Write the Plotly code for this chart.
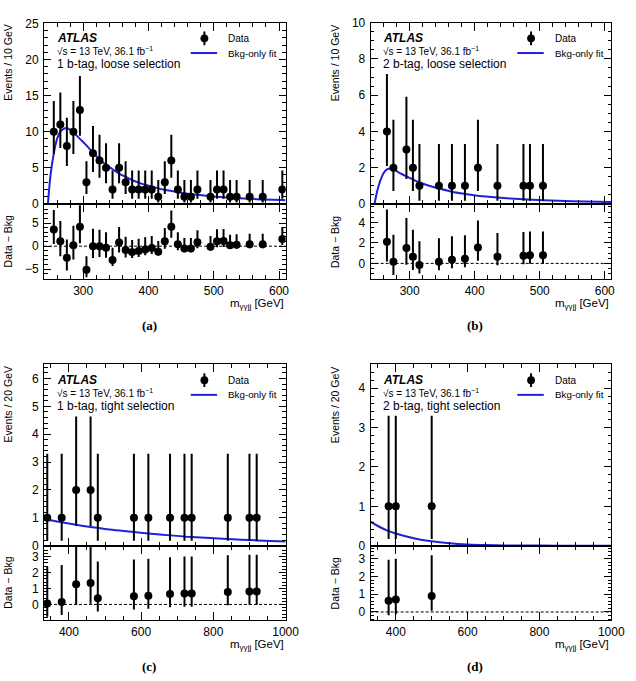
import plotly.graph_objects as go

W, H = 636, 681

# ---------------- data ----------------
# Panel (a): 1 b-tag, loose selection
a_x = [255, 265, 275, 285, 295, 305, 315, 325, 335, 345, 355, 365, 375, 385, 395, 405,
       415, 425, 435, 445, 455, 465, 475, 495, 505, 515, 525, 535, 555, 575, 605]
a_n = [10, 11, 8, 10, 13, 3, 7, 6, 5, 2, 5, 3, 2, 2, 2, 2,
       1, 3, 6, 2, 1, 1, 2, 1, 2, 2, 1, 1, 1, 1, 2]
a_diff = [3.6, 1.05, -2.5, 0.2, 4.2, -5.1, 0.0, 0.0, -0.35, -3.0, 0.8, -0.85, -1.3, -1.05, -0.7, -0.4,
          -1.2, 1.05, 4.2, 0.4, -0.5, -0.5, 0.85, -0.1, 1.05, 1.1, 0.2, 0.3, 0.4, 0.4, 1.55]
a_fit_x = [246, 250, 255, 260, 265, 270, 275, 285, 295, 305, 315, 325, 335, 345, 355, 365, 375,
           385, 395, 405, 415, 425, 435, 445, 455, 465, 475, 495, 505, 515, 525, 535, 555, 575, 605, 610]
a_fit_y = [0, 4.0, 7.0, 9.0, 10.0, 10.4, 10.5, 9.9, 9.0, 8.1, 7.1, 6.2, 5.4, 4.8, 4.2, 3.75, 3.3,
           2.95, 2.65, 2.4, 2.15, 1.95, 1.78, 1.62, 1.48, 1.36, 1.25, 1.07, 0.99, 0.92, 0.86, 0.8,
           0.7, 0.62, 0.52, 0.5]

# Panel (b): 2 b-tag, loose selection
b_x = [265, 275, 295, 305, 315, 345, 365, 385, 405, 435, 475, 485, 505]
b_n = [4, 2, 3, 2, 1, 1, 1, 1, 2, 1, 1, 1, 1]
b_diff = [2.1, 0.15, 1.5, 0.65, -0.15, 0.15, 0.35, 0.45, 1.55, 0.65, 0.75, 0.8, 0.8]
b_fit_x = [246, 250, 255, 260, 265, 270, 275, 285, 295, 305, 315, 330, 345, 365, 385, 405, 435,
           475, 505, 550, 610]
b_fit_y = [0, 0.7, 1.3, 1.7, 1.9, 1.95, 1.9, 1.7, 1.52, 1.35, 1.18, 1.0, 0.85, 0.67, 0.55, 0.45,
           0.35, 0.25, 0.2, 0.15, 0.1]

# Panel (c): 1 b-tag, tight selection
c_x = [340, 380, 420, 460, 480, 580, 620, 680, 720, 740, 840, 900, 920]
c_n = [1, 1, 2, 2, 1, 1, 1, 1, 1, 1, 1, 1, 1]
c_diff = [0.06, 0.16, 1.26, 1.34, 0.39, 0.51, 0.55, 0.65, 0.69, 0.69, 0.77, 0.81, 0.81]
c_fit_x = [331, 340, 380, 420, 460, 500, 580, 620, 680, 740, 840, 920, 1000]
c_fit_y = [0.96, 0.93, 0.84, 0.75, 0.67, 0.6, 0.49, 0.44, 0.37, 0.31, 0.24, 0.19, 0.15]

# Panel (d): 2 b-tag, tight selection
d_x = [380, 400, 500]
d_n = [1, 1, 1]
d_diff = [0.64, 0.7, 0.9]
d_fit_x = [330, 350, 380, 400, 450, 500, 550, 600, 650, 700, 800, 900, 1000]
d_fit_y = [0.61, 0.5, 0.37, 0.31, 0.19, 0.11, 0.06, 0.03, 0.015, 0.008, 0.003, 0.001, 0.0005]

# Poisson (Garwood 68%) error table: n -> (down, up)
POIS = {1: (0.827, 2.300), 2: (1.292, 2.638), 3: (1.633, 2.918), 4: (1.914, 3.163),
        5: (2.160, 3.382), 6: (2.380, 3.584), 7: (2.581, 3.770), 8: (2.768, 3.945),
        9: (2.943, 4.110), 10: (3.109, 4.266), 11: (3.266, 4.416), 12: (3.416, 4.559),
        13: (3.559, 4.698)}

labels = ["1 b-tag, loose selection", "2 b-tag, loose selection",
          "1 b-tag, tight selection", "2 b-tag, tight selection"]
ytitles = ["Events / 10 GeV", "Events / 10 GeV", "Events / 20 GeV", "Events / 20 GeV"]
captions = ["(a)", "(b)", "(c)", "(d)"]

panels = [
    dict(x=a_x, n=a_n, d=a_diff, fx=a_fit_x, fy=a_fit_y),
    dict(x=b_x, n=b_n, d=b_diff, fx=b_fit_x, fy=b_fit_y),
    dict(x=c_x, n=c_n, d=c_diff, fx=c_fit_x, fy=c_fit_y),
    dict(x=d_x, n=d_n, d=d_diff, fx=d_fit_x, fy=d_fit_y),
]

# ---------------- layout geometry (pixels) ----------------
geo = [
    dict(L=45, R=292, T=16, M=201, B=278, xr=[240, 610], yr=[0, 25.1], rr=[-7.2, 9.2],
         xd=100, xm=20, yd=5, ym=1, rd=5, rm=1),
    dict(L=379, R=625, T=16, M=201, B=278, xr=[240, 610], yr=[0, 10], rr=[-1.55, 5.8],
         xd=100, xm=20, yd=2, ym=0.5, rd=2, rm=0.5),
    dict(L=45, R=292, T=365, M=550, B=626, xr=[331, 1000], yr=[0, 6.5], rr=[-0.98, 3.67],
         xd=200, xm=50, yd=1, ym=0.2, rd=1, rm=0.2),
    dict(L=379, R=625, T=365, M=550, B=626, xr=[330, 1000], yr=[0, 4.6], rr=[-0.46, 3.74],
         xd=200, xm=50, yd=1, ym=0.2, rd=1, rm=0.2),
]

FONT = "Liberation Sans"
SERIF = "Liberation Serif"
BLUE = "#2020d8"


def fx(px):
    return px / W


def fy(py):
    return 1 - py / H


fig = go.Figure()
layout = dict(width=W, height=H, margin=dict(l=0, r=0, t=0, b=0),
              plot_bgcolor="white", paper_bgcolor="white", showlegend=False,
              font=dict(family=FONT, color="black"))
shapes = []
annotations = []


def axis_common(rng, dtick, minor, showlabels, ticklen):
    return dict(range=rng, dtick=dtick, tick0=0, showline=True, linecolor="black",
                linewidth=1, mirror="allticks", ticks="inside", ticklen=ticklen,
                tickwidth=1, tickcolor="black", showgrid=False, zeroline=False,
                showticklabels=showlabels, tickfont=dict(size=12, family=FONT),
                minor=dict(dtick=minor, tick0=0, ticks="inside", ticklen=ticklen / 2,
                           tickwidth=1, tickcolor="black", showgrid=False))


for i, (p, g) in enumerate(zip(panels, geo)):
    mi, ri = 2 * i + 1, 2 * i + 2
    xm_name, ym_name = f"x{mi}", f"y{mi}"
    xr_name, yr_name = f"x{ri}", f"y{ri}"
    kx_m = "xaxis" if mi == 1 else f"xaxis{mi}"
    ky_m = "yaxis" if mi == 1 else f"yaxis{mi}"
    kx_r, ky_r = f"xaxis{ri}", f"yaxis{ri}"
    xdom = [fx(g["L"]), fx(g["R"])]

    ax = axis_common(g["xr"], g["xd"], g["xm"], False, 8)
    ax.update(domain=xdom, anchor=ym_name)
    layout[kx_m] = ax
    ay = axis_common(g["yr"], g["yd"], g["ym"], True, 7)
    ay.update(domain=[fy(g["M"]), fy(g["T"])], anchor=xm_name, ticklabelstandoff=2)
    layout[ky_m] = ay

    axr = axis_common(g["xr"], g["xd"], g["xm"], True, 8)
    axr.update(domain=xdom, anchor=yr_name, ticklabelstandoff=0)
    layout[kx_r] = axr
    ayr = axis_common(g["rr"], g["rd"], g["rm"], True, 7)
    ayr.update(domain=[fy(g["B"]), fy(g["M"])], anchor=xr_name, ticklabelstandoff=2)
    layout[ky_r] = ayr

    lo = [POIS[n][0] for n in p["n"]]
    hi = [POIS[n][1] for n in p["n"]]

    # fit curve
    fig.add_trace(go.Scatter(x=p["fx"], y=p["fy"], mode="lines",
                             line=dict(color=BLUE, width=2, shape="spline", smoothing=0.8),
                             xaxis=xm_name, yaxis=ym_name, cliponaxis=True))
    # data
    fig.add_trace(go.Scatter(x=p["x"], y=p["n"], mode="markers",
                             marker=dict(color="black", size=8),
                             error_y=dict(type="data", array=hi, arrayminus=lo, symmetric=False,
                                          color="black", thickness=2, width=0),
                             xaxis=xm_name, yaxis=ym_name))
    # ratio
    fig.add_trace(go.Scatter(x=p["x"], y=p["d"], mode="markers",
                             marker=dict(color="black", size=8),
                             error_y=dict(type="data", array=hi, arrayminus=lo, symmetric=False,
                                          color="black", thickness=2, width=0),
                             xaxis=xr_name, yaxis=yr_name))
    # dashed zero line
    shapes.append(dict(type="line", xref=f"{xr_name} domain", yref=yr_name, x0=0, x1=1,
                       y0=0, y1=0, line=dict(color="black", width=1, dash="3px,2px"),
                       layer="below"))

    L, T = g["L"], g["T"]
    # ATLAS label block
    annotations.append(dict(text="<b><i>ATLAS</i></b>", x=fx(L + 11), y=fy(T + 16),
                            xanchor="left", yanchor="middle", font=dict(size=12)))
    annotations.append(dict(text="√s = 13 TeV, 36.1 fb<sup>−1</sup>", x=fx(L + 11), y=fy(T + 29),
                            xanchor="left", yanchor="middle", font=dict(size=10)))
    annotations.append(dict(text=labels[i], x=fx(L + 11), y=fy(T + 42),
                            xanchor="left", yanchor="middle", font=dict(size=12)))
    # legend
    mx, my = L + 164, T + 16
    shapes.append(dict(type="line", xref="paper", yref="paper", x0=fx(mx), x1=fx(mx),
                       y0=fy(my - 7), y1=fy(my + 7), line=dict(color="black", width=2)))
    shapes.append(dict(type="circle", xref="paper", yref="paper", x0=fx(mx - 4), x1=fx(mx + 4),
                       y0=fy(my + 4), y1=fy(my - 4), fillcolor="black",
                       line=dict(color="black", width=0)))
    annotations.append(dict(text="Data", x=fx(L + 186), y=fy(my), xanchor="left",
                            yanchor="middle", font=dict(size=10)))
    ly = T + 31
    shapes.append(dict(type="line", xref="paper", yref="paper", x0=fx(L + 150), x1=fx(L + 177),
                       y0=fy(ly), y1=fy(ly), line=dict(color=BLUE, width=2)))
    annotations.append(dict(text="Bkg-only fit", x=fx(L + 186), y=fy(ly), xanchor="left",
                            yanchor="middle", font=dict(size=9.8)))
    # axis titles
    annotations.append(dict(text=ytitles[i], x=fx(L - 37), y=fy(T + 41), textangle=-90,
                            xanchor="center", yanchor="middle", font=dict(size=10.5)))
    annotations.append(dict(text="Data − Bkg", x=fx(L - 37), y=fy((g["M"] + g["B"]) / 2),
                            textangle=-90, xanchor="center", yanchor="middle",
                            font=dict(size=10.5)))
    annotations.append(dict(text="m<sub>γγjj</sub> [GeV]", x=fx(g["R"]), y=fy(g["B"] + 25),
                            xanchor="right", yanchor="middle", font=dict(size=11.5)))
    annotations.append(dict(text=f"<b>{captions[i]}</b>", x=fx((L + g["R"]) / 2 - 16),
                            y=fy(g["B"] + 47), xanchor="center", yanchor="middle",
                            font=dict(size=13, family=SERIF)))

for a in annotations:
    a.update(xref="paper", yref="paper", showarrow=False)
layout["shapes"] = shapes
layout["annotations"] = annotations
fig.update_layout(**layout)
fig.write_html("out.html")
